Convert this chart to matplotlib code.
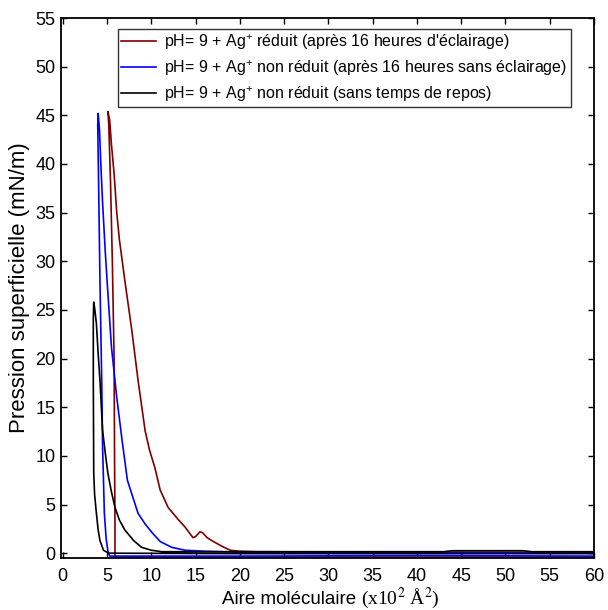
import matplotlib
matplotlib.use("Agg")
import matplotlib.pyplot as plt

plt.rcParams['font.family'] = ['Liberation Sans', 'DejaVu Sans']
plt.rcParams['mathtext.fontset'] = 'custom'
plt.rcParams['mathtext.rm'] = 'Liberation Sans'
plt.rcParams['mathtext.it'] = 'Liberation Sans'

# red: pH=9 + Ag+ reduit (apres 16 h d'eclairage)
red_x = [60, 45, 30, 22, 20, 18.9, 18.0, 17.0, 16.3, 15.8, 15.5, 15.0, 14.7, 13.8, 13.0,
         11.9, 11.0, 10.4, 9.8, 9.3, 8.5, 7.8, 7.0, 6.4, 6.1, 5.8, 5.5, 5.3, 5.1,
         5.2, 5.4, 5.6, 5.8, 5.85, 5.9, 5.9, 20, 40, 60]
red_y = [0.1, 0.1, 0.12, 0.15, 0.2, 0.3, 0.7, 1.2, 1.6, 2.1, 2.2, 1.7, 1.6, 2.7, 3.5,
         4.7, 6.5, 8.8, 10.6, 12.6, 17.8, 22.9, 28.1, 32.2, 35.0, 39.0, 42.0, 44.5, 45.4,
         44.0, 38.0, 30.0, 20.0, 10.0, 3.0, -0.4, -0.4, -0.4, -0.4]

# blue: pH=9 + Ag+ non reduit (apres 16 h sans eclairage)
blue_x = [60, 45, 30, 20, 16.0, 13.8, 12.3, 11.0, 10.1, 9.3, 8.5, 7.3, 6.7, 6.1, 5.5,
          5.0, 4.8, 4.5, 4.3, 4.15, 4.0, 3.95, 4.05, 4.2, 4.4, 4.5, 4.7, 4.9, 5.1,
          5.3, 8, 20, 40, 60]
blue_y = [0.0, 0.05, 0.05, 0.1, 0.2, 0.3, 0.6, 1.2, 2.1, 3.0, 4.1, 7.5, 11.6, 16.0, 21.2,
          28.1, 31.0, 36.0, 40.0, 43.5, 45.2, 44.0, 38.0, 28.1, 17.8, 10.9, 4.1, 1.5, 0.2,
          -0.3, -0.3, -0.3, -0.25, -0.3]

# black: pH=9 + Ag+ non reduit (sans temps de repos)
black_x = [60, 53, 52, 44, 43, 35, 20, 11.2, 10.0, 8.9, 8.0, 7.0, 6.4, 5.9, 5.5, 5.1, 4.8,
           4.5, 4.2, 4.0, 3.8, 3.6, 3.5, 3.45, 3.45, 3.5, 3.6, 3.8, 4.0, 4.2, 4.6,
           5.2, 20, 40, 60]
black_y = [0.15, 0.15, 0.25, 0.25, 0.15, 0.15, 0.15, 0.15, 0.3, 0.6, 1.3, 2.4, 3.4, 4.7, 6.3, 8.2,
           10.3, 12.6, 17.8, 20.5, 23.6, 25.2, 25.8, 24.0, 18.0, 8.2, 6.0, 4.1, 2.4, 1.3,
           0.3, 0.0, -0.05, -0.05, -0.05]

labels = [r"pH= 9 + Ag$^{+}$ réduit (après 16 heures d'éclairage)",
          r"pH= 9 + Ag$^{+}$ non réduit (après 16 heures sans éclairage)",
          r"pH= 9 + Ag$^{+}$ non réduit (sans temps de repos)"]

fig = plt.figure(figsize=(6.08, 6.10), dpi=100)
ax = fig.add_axes([0.1003, 0.0852, 0.8766, 0.8852])

ax.plot(red_x, red_y, color='#800000', lw=1.2, label=labels[0])
ax.plot(blue_x, blue_y, color='#0000ff', lw=1.2, label=labels[1])
ax.plot(black_x, black_y, color='black', lw=1.2, label=labels[2])

ax.set_xlim(-0.2, 60)
ax.set_ylim(-0.5, 55)
ax.set_xticks(range(0, 61, 5))
ax.set_yticks(range(0, 56, 5))
ax.tick_params(direction='in', top=True, right=True, length=4, width=1,
               labelsize=13, pad=4)
ax.tick_params(axis='x', pad=7)
for s in ax.spines.values():
    s.set_linewidth(1.3)

ax.set_ylabel("Pression superficielle (mN/m)", fontsize=16, labelpad=4)

# x label: sans part then serif part
t1 = ax.text(0.302, -0.086, "Aire moléculaire ", transform=ax.transAxes,
             fontsize=13.5, ha='left', va='baseline')
fig.canvas.draw()
bb = t1.get_window_extent().transformed(ax.transAxes.inverted())
ax.text(bb.x1, -0.086, "(x10$^{2}$ Å$^{2}$)", transform=ax.transAxes,
        fontsize=14, ha='left', va='baseline', family='Liberation Serif',
        math_fontfamily='stix')

leg = ax.legend(loc='upper left', bbox_to_anchor=(0.107, 0.98), borderaxespad=0,
                fontsize=11.5, frameon=True, fancybox=False, edgecolor='#333333',
                framealpha=1, handlelength=2.2, handletextpad=0.5,
                labelspacing=0.4, borderpad=0.2)
leg.get_frame().set_linewidth(1.0)

fig.savefig("out.png", dpi=100)
